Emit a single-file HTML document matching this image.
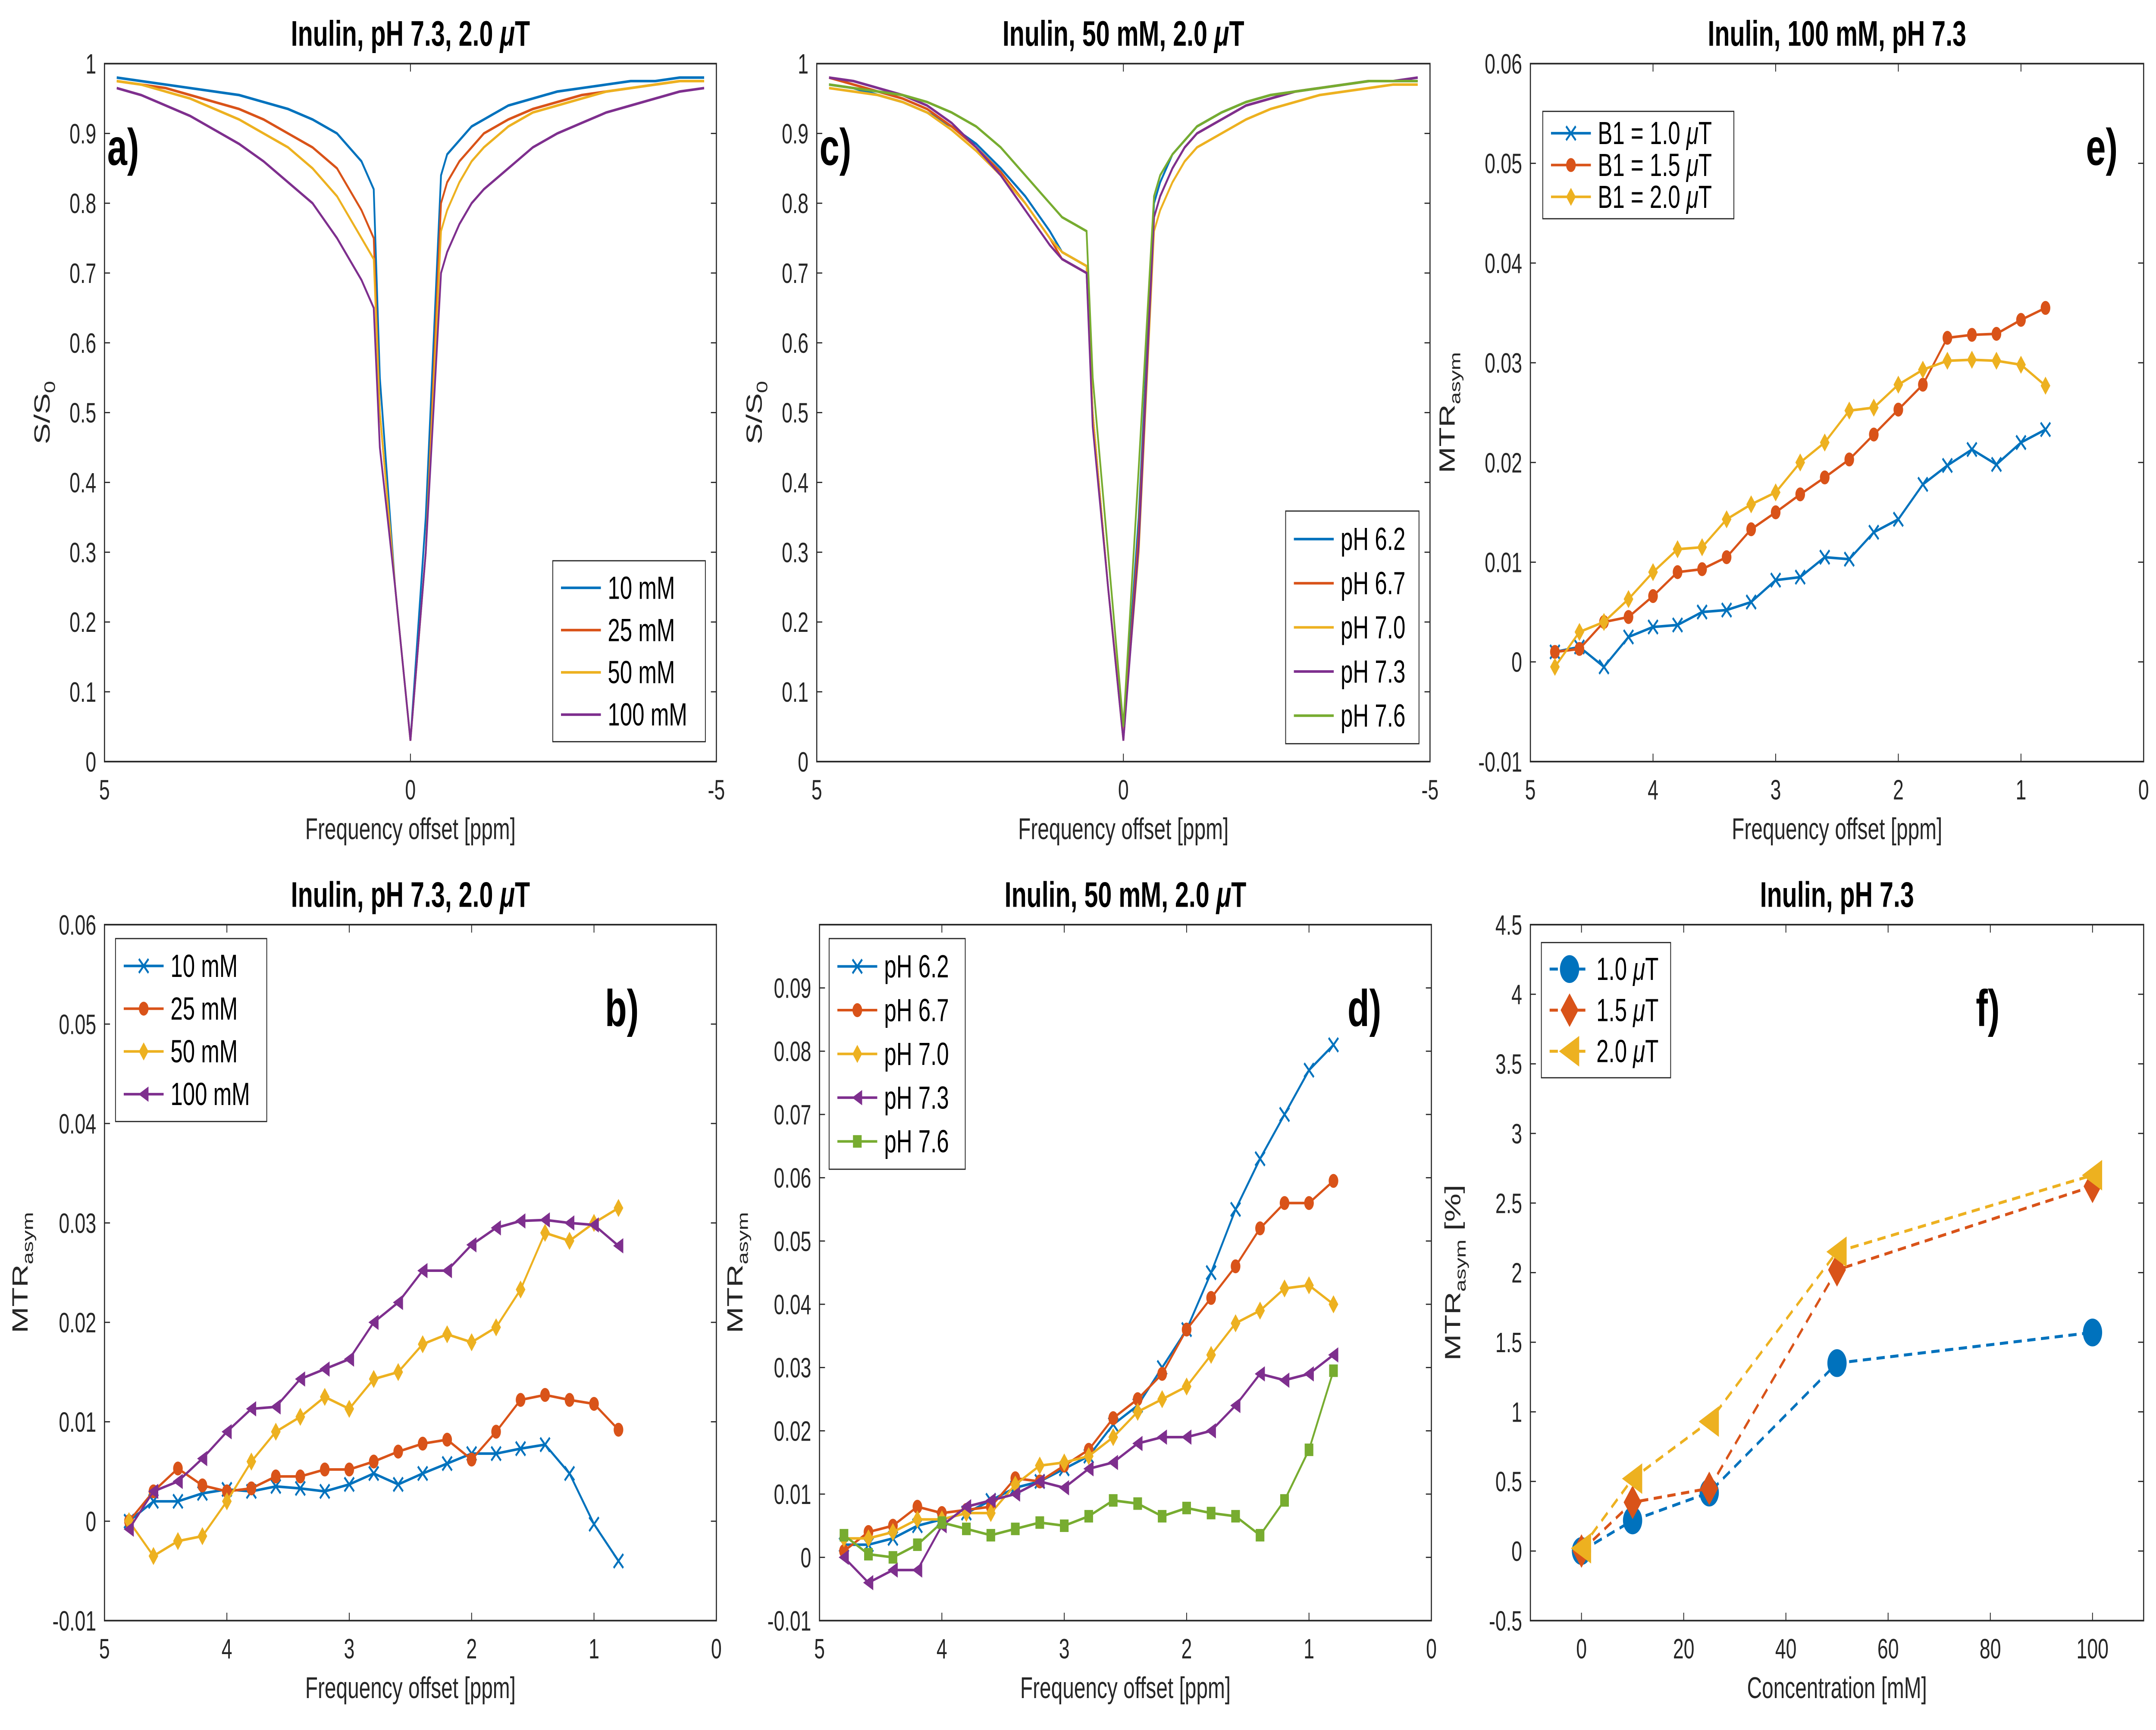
<!DOCTYPE html>
<html><head><meta charset="utf-8"><style>
html,body{margin:0;padding:0;background:#fff;overflow:hidden;width:100%;height:100%;}
svg{display:block;font-family:"Liberation Sans",Arial,sans-serif;width:100vw;height:100vh;}
</style></head><body>
<svg id="fig" viewBox="0 0 1568 870" preserveAspectRatio="none" xmlns="http://www.w3.org/2000/svg">
<rect width="1568" height="870" fill="#fff"/>
</svg>
<script>
// ---------- data ----------
const zOffsets = [4.8,4.4,4,3.6,3.2,2.8,2.4,2,1.6,1.2,1,0.8,0.6,0.5,0.25,0,-0.25,-0.5,-0.6,-0.8,-1,-1.2,-1.6,-2,-2.4,-2.8,-3.2,-3.6,-4,-4.4,-4.8];
const zA10 = [0.98,0.975,0.97,0.965,0.96,0.955,0.945,0.935,0.92,0.9,0.88,0.86,0.82,0.55,0.25,0.03,0.35,0.84,0.87,0.89,0.91,0.92,0.94,0.95,0.96,0.965,0.97,0.975,0.975,0.98,0.98];
const zA25 = [0.975,0.97,0.965,0.955,0.945,0.935,0.92,0.9,0.88,0.85,0.82,0.79,0.75,0.5,0.25,0.03,0.3,0.8,0.83,0.86,0.88,0.9,0.92,0.935,0.945,0.955,0.96,0.965,0.97,0.975,0.975];
const zA50 = [0.975,0.97,0.96,0.95,0.935,0.92,0.9,0.88,0.85,0.81,0.78,0.75,0.72,0.5,0.25,0.03,0.3,0.76,0.79,0.83,0.86,0.88,0.91,0.93,0.94,0.95,0.96,0.965,0.97,0.975,0.975];
const zA100 = [0.965,0.955,0.94,0.925,0.905,0.885,0.86,0.83,0.8,0.75,0.72,0.69,0.65,0.45,0.25,0.03,0.3,0.7,0.73,0.77,0.8,0.82,0.85,0.88,0.9,0.915,0.93,0.94,0.95,0.96,0.965];
const zC62 = [0.97,0.965,0.955,0.945,0.93,0.91,0.885,0.85,0.81,0.76,0.73,0.72,0.71,0.5,0.25,0.04,0.35,0.8,0.83,0.87,0.89,0.91,0.93,0.945,0.955,0.96,0.965,0.97,0.975,0.975,0.975];
const zC67 = [0.98,0.97,0.96,0.95,0.935,0.91,0.88,0.845,0.8,0.75,0.72,0.71,0.7,0.5,0.25,0.03,0.33,0.78,0.81,0.85,0.88,0.9,0.92,0.94,0.95,0.96,0.965,0.97,0.975,0.975,0.975];
const zC70 = [0.965,0.96,0.955,0.945,0.93,0.905,0.875,0.84,0.8,0.75,0.73,0.72,0.71,0.5,0.25,0.04,0.3,0.76,0.79,0.83,0.86,0.88,0.9,0.92,0.935,0.945,0.955,0.96,0.965,0.97,0.97];
const zC73 = [0.98,0.975,0.965,0.955,0.94,0.915,0.88,0.84,0.79,0.74,0.72,0.71,0.7,0.48,0.25,0.03,0.31,0.78,0.81,0.85,0.88,0.9,0.92,0.94,0.95,0.96,0.965,0.97,0.975,0.975,0.98];
const zC76 = [0.97,0.965,0.96,0.955,0.945,0.93,0.91,0.88,0.84,0.8,0.78,0.77,0.76,0.55,0.3,0.05,0.42,0.81,0.84,0.87,0.89,0.91,0.93,0.945,0.955,0.96,0.965,0.97,0.975,0.975,0.975];
const mOffsets = [4.8,4.6,4.4,4.2,4.0,3.8,3.6,3.4,3.2,3.0,2.8,2.6,2.4,2.2,2.0,1.8,1.6,1.4,1.2,1.0,0.8];
const eB10 = [0.001,0.0015,-0.0005,0.0025,0.0035,0.0037,0.005,0.0052,0.006,0.0082,0.0085,0.0105,0.0103,0.013,0.0143,0.0178,0.0197,0.0213,0.0198,0.022,0.0233];
const eB15 = [0.001,0.0013,0.004,0.0045,0.0066,0.009,0.0093,0.0105,0.0133,0.015,0.0168,0.0185,0.0203,0.0228,0.0253,0.0278,0.0325,0.0328,0.0329,0.0343,0.0355];
const eB20 = [-0.0005,0.003,0.004,0.0063,0.009,0.0113,0.0115,0.0143,0.0158,0.017,0.02,0.022,0.0252,0.0255,0.0278,0.0293,0.0302,0.0303,0.0302,0.0298,0.0277];
const bC10 = [0,0.002,0.002,0.0028,0.0032,0.003,0.0035,0.0033,0.003,0.0037,0.0048,0.0037,0.0048,0.0058,0.0068,0.0068,0.0073,0.0077,0.0048,-0.0003,-0.004];
const bC25 = [0,0.003,0.0053,0.0036,0.003,0.0033,0.0045,0.0045,0.0052,0.0052,0.006,0.007,0.0078,0.0082,0.0062,0.009,0.0122,0.0127,0.0122,0.0118,0.0092];
const bC50 = [0,-0.0035,-0.002,-0.0015,0.002,0.006,0.009,0.0105,0.0125,0.0113,0.0143,0.015,0.0178,0.0188,0.018,0.0195,0.0233,0.029,0.0282,0.030,0.0315];
const bC100 = [-0.0008,0.003,0.004,0.0063,0.009,0.0113,0.0115,0.0143,0.0153,0.0163,0.02,0.022,0.0252,0.0252,0.0278,0.0295,0.0302,0.0303,0.03,0.0298,0.0277];
const dP62 = [0.002,0.002,0.003,0.005,0.006,0.007,0.009,0.011,0.012,0.014,0.016,0.021,0.024,0.03,0.036,0.045,0.055,0.063,0.07,0.077,0.081];
const dP67 = [0.001,0.004,0.005,0.008,0.007,0.0075,0.008,0.0125,0.012,0.0145,0.017,0.022,0.025,0.029,0.036,0.041,0.046,0.052,0.056,0.056,0.0595];
const dP70 = [0.003,0.003,0.004,0.006,0.006,0.007,0.007,0.0115,0.0145,0.015,0.016,0.019,0.023,0.025,0.027,0.032,0.037,0.039,0.0425,0.043,0.04];
const dP73 = [0,-0.004,-0.002,-0.002,0.005,0.008,0.009,0.01,0.012,0.011,0.014,0.015,0.018,0.019,0.019,0.02,0.024,0.029,0.028,0.029,0.032];
const dP76 = [0.0035,0.0005,0,0.002,0.0055,0.0045,0.0035,0.0045,0.0055,0.005,0.0065,0.009,0.0085,0.0065,0.0078,0.007,0.0065,0.0035,0.009,0.017,0.0295];
const fConc = [0,10,25,50,100];
const fB10 = [0,0.22,0.42,1.35,1.57];
const fB15 = [0,0.35,0.45,2.02,2.62];
const fB20 = [0.02,0.52,0.93,2.15,2.7];
const ticksZX = [5,0,-5];
const ticksZY = [0,0.1,0.2,0.3,0.4,0.5,0.6,0.7,0.8,0.9,1];
const ticksMX = [5,4,3,2,1,0];
const ticksMY = [-0.01,0,0.01,0.02,0.03,0.04,0.05,0.06];
const ticksDY = [-0.01,0,0.01,0.02,0.03,0.04,0.05,0.06,0.07,0.08,0.09];
const ticksFX = [0,20,40,60,80,100];
const ticksFY = [-0.5,0,0.5,1,1.5,2,2.5,3,3.5,4,4.5];

const C = ['#0072BD','#D95319','#EDB120','#7E2F8E','#77AC30'];
const NS = 'http://www.w3.org/2000/svg';
const svg = document.getElementById('fig');
function mk(tag, attrs, parent){const e=document.createElementNS(NS,tag);for(const k in attrs)e.setAttribute(k,attrs[k]);(parent||svg).appendChild(e);return e;}

function marker(g,type,x,y,col,s){
  let e;
  if(type==='x'){e=mk('path',{d:`M${x-s} ${y-s}L${x+s} ${y+s}M${x-s} ${y+s}L${x+s} ${y-s}`,stroke:col,'stroke-width':1.2,fill:'none'},g);}
  else if(type==='o'){e=mk('circle',{cx:x,cy:y,r:s,fill:col},g);}
  else if(type==='d'){e=mk('path',{d:`M${x} ${y-s*1.3}L${x+s} ${y}L${x} ${y+s*1.3}L${x-s} ${y}Z`,fill:col},g);}
  else if(type==='<'){e=mk('path',{d:`M${x-s*1.1} ${y}L${x+s} ${y-s*1.1}L${x+s} ${y+s*1.1}Z`,fill:col},g);}
  else if(type==='s'){e=mk('rect',{x:x-s*0.9,y:y-s*0.9,width:s*1.8,height:s*1.8,fill:col},g);}
  
  
}

function panel(o){
  const g=mk('g',{});
  
  
  const X=v=>o.x0+(v-o.xr[0])/(o.xr[1]-o.xr[0])*(o.x1-o.x0);
  const Y=v=>o.y1-(v-o.yr[0])/(o.yr[1]-o.yr[0])*(o.y1-o.y0);
  o.xt.forEach(t=>{const x=X(t);
    mk('line',{x1:x,x2:x,y1:o.y1,y2:o.y1-4,stroke:'#262626','stroke-width':0.6},g);
    mk('line',{x1:x,x2:x,y1:o.y0,y2:o.y0+4,stroke:'#262626','stroke-width':0.6},g);
    const tx=mk('text',{x:x,y:o.y1+19,'font-size':14,'text-anchor':'middle',fill:'#262626'},g);tx.textContent=String(t);
    });
  o.yt.forEach(t=>{const y=Y(t);
    mk('line',{x1:o.x0,x2:o.x0+4,y1:y,y2:y,stroke:'#262626','stroke-width':0.6},g);
    mk('line',{x1:o.x1,x2:o.x1-4,y1:y,y2:y,stroke:'#262626','stroke-width':0.6},g);
    const tx=mk('text',{x:o.x0-6,y:y+5,'font-size':14,'text-anchor':'end',fill:'#262626'},g);tx.textContent=String(t);
    });
  const box=mk('rect',{x:o.x0,y:o.y0,width:o.x1-o.x0,height:o.y1-o.y0,fill:'none',stroke:'#262626','stroke-width':0.8},g);
  
  o.series.forEach(s=>{
    const pts=s.y.map((v,i)=>X(s.x[i]).toFixed(2)+','+Y(v).toFixed(2)).join(' ');
    const pl=mk('polyline',{points:pts,fill:'none',stroke:s.c,'stroke-width':s.w||1.3},g);
    if(s.dash)pl.setAttribute('stroke-dasharray','6,4');
    
    if(s.m)s.y.forEach((v,i)=>marker(g,s.m,X(s.x[i]),Y(v),s.c,s.ms||3.5));
  });
  const t=mk('text',{x:(o.x0+o.x1)/2,y:o.y0-9,'font-size':18,'font-weight':'bold','text-anchor':'middle',fill:'#000'},g);
  
  t.innerHTML=o.title;
  const xl=mk('text',{x:(o.x0+o.x1)/2,y:o.y1+39,'font-size':15,'text-anchor':'middle',fill:'#262626'},g);
  xl.textContent=o.xl;
  const yc=(o.y0+o.y1)/2;
  const yl=mk('text',{x:o.ylx,y:yc,'font-size':16,'text-anchor':'middle',fill:'#262626',transform:`rotate(-90 ${o.ylx} ${yc})`},g);
  yl.innerHTML=o.yl;
  const lt=mk('text',{x:o.lx,y:o.ly,'font-size':26,'font-weight':'bold',fill:'#000'},g);
  lt.textContent=o.letter;
  const L=o.leg;
  const lg=mk('g',{},g);
  mk('rect',{x:L.x,y:L.y,width:L.w,height:L.h,fill:'#fff',stroke:'#262626','stroke-width':0.6},lg);
  const step=(L.h-6)/o.series.length;
  o.series.forEach((s,i)=>{const cy=L.y+3+step*(i+0.5);
    const eg=mk('g',{},lg);
    const ln=mk('line',{x1:L.x+6,x2:L.x+35,y1:cy,y2:cy,stroke:s.c,'stroke-width':s.w||1.3},eg);
    if(s.dash)ln.setAttribute('stroke-dasharray','6,4');
    if(s.m)marker(eg,s.m,L.x+20.5,cy,s.c,(s.ms||3.5)*(L.mscale||1));
    const tx=mk('text',{x:L.x+40,y:cy+5.5,'font-size':16,fill:'#000'},eg);tx.innerHTML=s.label;
  });
}
const mu='<tspan font-style="italic">μ</tspan>T';
const mtr='MTR<tspan font-size="11" dy="4">asym</tspan>';
panel({name:'panel-a',x0:76,x1:521,y0:32,y1:383,xr:[5,-5],yr:[0,1],xt:ticksZX,yt:ticksZY,
  title:'Inulin, pH 7.3, 2.0 '+mu,xl:'Frequency offset [ppm]',yl:'S/S<tspan font-size="11" dy="4">0</tspan>',ylx:36,letter:'a)',lx:78,ly:83,
  leg:{x:402,y:282,w:111,h:91},
  series:[{x:zOffsets,y:zA10,c:C[0],label:'10 mM'},{x:zOffsets,y:zA25,c:C[1],label:'25 mM'},{x:zOffsets,y:zA50,c:C[2],label:'50 mM'},{x:zOffsets,y:zA100,c:C[3],label:'100 mM'}]});
panel({name:'panel-c',x0:594,x1:1040,y0:32,y1:383,xr:[5,-5],yr:[0,1],xt:ticksZX,yt:ticksZY,
  title:'Inulin, 50 mM, 2.0 '+mu,xl:'Frequency offset [ppm]',yl:'S/S<tspan font-size="11" dy="4">0</tspan>',ylx:554,letter:'c)',lx:596,ly:83,
  leg:{x:935,y:257,w:97,h:117},
  series:[{x:zOffsets,y:zC62,c:C[0],label:'pH 6.2'},{x:zOffsets,y:zC67,c:C[1],label:'pH 6.7'},{x:zOffsets,y:zC70,c:C[2],label:'pH 7.0'},{x:zOffsets,y:zC73,c:C[3],label:'pH 7.3'},{x:zOffsets,y:zC76,c:C[4],label:'pH 7.6'}]});
panel({name:'panel-e',x0:1113,x1:1559,y0:32,y1:383,xr:[5,0],yr:[-0.01,0.06],xt:ticksMX,yt:ticksMY,
  title:'Inulin, 100 mM, pH 7.3',xl:'Frequency offset [ppm]',yl:mtr,ylx:1058,letter:'e)',lx:1517,ly:83,
  leg:{x:1122,y:56,w:139,h:54},
  series:[{x:mOffsets,y:eB10,c:C[0],m:'x',label:'B1 = 1.0 '+mu},{x:mOffsets,y:eB15,c:C[1],m:'o',label:'B1 = 1.5 '+mu},{x:mOffsets,y:eB20,c:C[2],m:'d',label:'B1 = 2.0 '+mu}]});
panel({name:'panel-b',x0:76,x1:521,y0:465,y1:815,xr:[5,0],yr:[-0.01,0.06],xt:ticksMX,yt:ticksMY,
  title:'Inulin, pH 7.3, 2.0 '+mu,xl:'Frequency offset [ppm]',yl:mtr,ylx:20,letter:'b)',lx:440,ly:516,
  leg:{x:84,y:472,w:110,h:92},
  series:[{x:mOffsets,y:bC10,c:C[0],m:'x',label:'10 mM'},{x:mOffsets,y:bC25,c:C[1],m:'o',label:'25 mM'},{x:mOffsets,y:bC50,c:C[2],m:'d',label:'50 mM'},{x:mOffsets,y:bC100,c:C[3],m:'<',label:'100 mM'}]});
panel({name:'panel-d',x0:596,x1:1041,y0:465,y1:815,xr:[5,0],yr:[-0.01,0.1],xt:ticksMX,yt:ticksDY,
  title:'Inulin, 50 mM, 2.0 '+mu,xl:'Frequency offset [ppm]',yl:mtr,ylx:540,letter:'d)',lx:980,ly:516,
  leg:{x:603,y:472,w:99,h:116},
  series:[{x:mOffsets,y:dP62,c:C[0],m:'x',label:'pH 6.2'},{x:mOffsets,y:dP67,c:C[1],m:'o',label:'pH 6.7'},{x:mOffsets,y:dP70,c:C[2],m:'d',label:'pH 7.0'},{x:mOffsets,y:dP73,c:C[3],m:'<',label:'pH 7.3'},{x:mOffsets,y:dP76,c:C[4],m:'s',label:'pH 7.6'}]});
panel({name:'panel-f',x0:1113,x1:1559,y0:465,y1:815,xr:[-10,110],yr:[-0.5,4.5],xt:ticksFX,yt:ticksFY,
  title:'Inulin, pH 7.3',xl:'Concentration [mM]',yl:mtr+'<tspan dy="-4"> [%]</tspan>',ylx:1062,letter:'f)',lx:1437,ly:516,
  leg:{x:1121,y:474,w:94,h:68,mscale:1},
  series:[{x:fConc,y:fB10,c:C[0],m:'o',ms:7,dash:1,w:1.5,label:'1.0 '+mu},{x:fConc,y:fB15,c:C[1],m:'d',ms:6.5,dash:1,w:1.5,label:'1.5 '+mu},{x:fConc,y:fB20,c:C[2],m:'<',ms:7,dash:1,w:1.5,label:'2.0 '+mu}]});
</script>
</body></html>
